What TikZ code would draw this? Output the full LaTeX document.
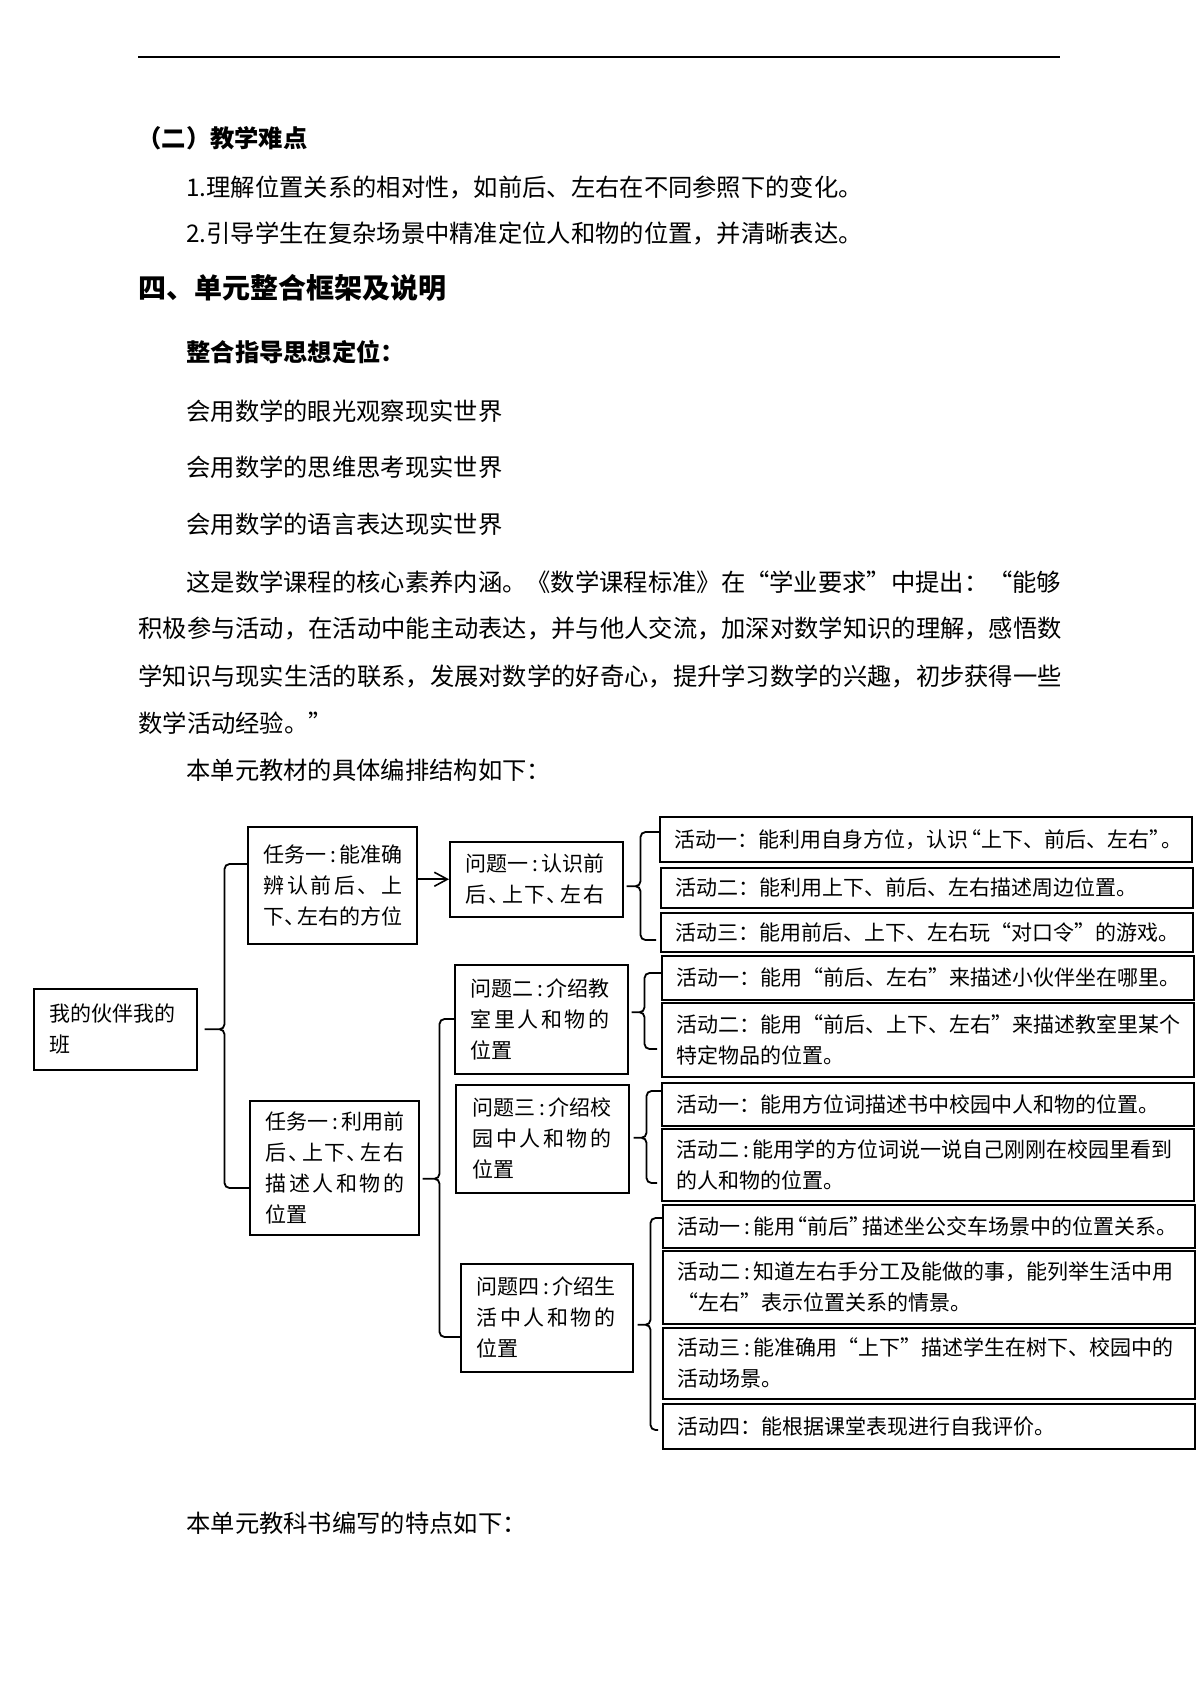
\documentclass[tikz,border=0pt]{standalone}
\usepackage{fontspec}
\setmainfont{Noto Sans CJK SC}
\usetikzlibrary{arrows.meta,calc}

\newcommand\hc{\makebox[0.6em][c]{:}}
\newcommand\pd{\makebox[0.6em][l]{、}}
\newcommand\oq[1][1em]{\makebox[#1][r]{“}}
\newcommand\cq[1][1em]{\makebox[#1][l]{”}}
\newcommand\spr[2][6.6em]{\makebox[#1][s]{\sprfirst#2\relax}}
\def\sprfirst#1{#1\sprrest}
\def\sprrest#1{\ifx#1\relax\else\hfill#1\expandafter\sprrest\fi}

\tikzset{
  body/.style={anchor=west,inner sep=0pt,font=\fontsize{12.15pt}{14pt}\selectfont},
  bodyb/.style={body,font=\fontsize{12.15pt}{14pt}\selectfont\bfseries},
  head/.style={body,font=\fontsize{14pt}{16pt}\selectfont\bfseries},
  box/.style={draw,line width=0.75pt,anchor=north west,inner xsep=8pt,inner ysep=0pt,
    align=left,font=\fontsize{10.5pt}{15.5pt}\selectfont},
  actbox/.style={box,inner xsep=7.5pt,text width=251pt,minimum width=266pt},
  brace/.style={line width=0.9pt,rounded corners=2.5pt},
  arr/.style={line width=0.8pt,-{Straight Barb[length=6.5pt,width=7pt]}}
}

\begin{document}
\begin{tikzpicture}[x=0.5pt,y=-0.5pt]
\fill[white](0,0)rectangle(1200,1696);
\useasboundingbox(0,0)rectangle(1200,1696);
% page text
\draw[line width=0.85pt](138,57)--(1060,57);
\node[bodyb](h2)at(137,138){（二）教学难点};
\node[body](p1)at(186,187){1.理解位置关系的相对性，如前后、左右在不同参照下的变化。};
\node[body](p2)at(186,233){2.引导学生在复杂场景中精准定位人和物的位置，并清晰表达。};
\node[head](h4)at(138,288){四、单元整合框架及说明};
\node[bodyb](h5)at(186,352){整合指导思想定位：};
\node[body](s1)at(186,411){会用数学的眼光观察现实世界};
\node[body](s2)at(186,467){会用数学的思维思考现实世界};
\node[body](s3)at(186,524){会用数学的语言表达现实世界};
\node[body](c1)at(186,582){这是数学课程的核心素养内涵。《数学课程标准》在\oq 学业要求\cq 中提出：\oq 能够};
\node[body](c2)at(138,628){积极参与活动，在活动中能主动表达，并与他人交流，加深对数学知识的理解，感悟数};
\node[body](c3)at(138,676){学知识与现实生活的联系，发展对数学的好奇心，提升学习数学的兴趣，初步获得一些};
\node[body](c4)at(138,723){数学活动经验。\cq};
\node[body](n1)at(186,770){本单元教材的具体编排结构如下：};
\node[body](n2)at(186,1523){本单元教科书编写的特点如下：};
% structure chart
\node[box,text width=65.5pt,minimum height=40.5pt](root)at(33,988){我的伙伴我的\\班};
\node[box,text width=68.5pt,minimum height=58.5pt](task1)at(247,826){任务一\hc 能准确\\\spr{辨认前后、上}\\\spr{下\pd 左右的方位}};
\node[box,text width=68.5pt,minimum height=67pt](task2)at(249,1100){任务一\hc 利用前\\\spr{后\pd 上下\pd 左右}\\\spr{描述人和物的}\\位置};
\node[box,text width=70.5pt,minimum height=37.5pt](ques1)at(449,841){问题一\hc 认识前\\\spr{后\pd 上下\pd 左右}};
\node[box,text width=70.5pt,minimum height=54.5pt](ques2)at(454,964){问题二\hc 介绍教\\\spr{室里人和物的}\\位置};
\node[box,text width=69.5pt,minimum height=54pt,inner xsep=8.5pt](ques3)at(455,1084){问题三\hc 介绍校\\\spr{园中人和物的}\\位置};
\node[box,text width=70pt,minimum height=54pt](ques4)at(460,1263){问题四\hc 介绍生\\\spr{活中人和物的}\\位置};
\node[actbox,minimum height=22.5pt](act11)at(659,816){活动一：能利用自身方位，认识\oq[0.6em]上下、前后、左右\cq[0.6em]。};
\node[actbox,minimum height=20pt](act12)at(660,867){活动二：能利用上下、前后、左右描述周边位置。};
\node[actbox,minimum height=19.5pt](act13)at(660,912){活动三：能用前后、上下、左右玩\oq 对口令\cq 的游戏。};
\node[actbox,minimum height=22pt](act21)at(661,955){活动一：能用\oq 前后、左右\cq 来描述小伙伴坐在哪里。};
\node[actbox,minimum height=37pt](act22)at(661,1002){活动二：能用\oq 前后、上下、左右\cq 来描述教室里某个\\特定物品的位置。};
\node[actbox,minimum height=21.5pt](act31)at(661,1082){活动一：能用方位词描述书中校园中人和物的位置。};
\node[actbox,minimum height=36pt](act32)at(661,1128){活动二\hc 能用学的方位词说一说自己刚刚在校园里看到\\的人和物的位置。};
\node[actbox,minimum height=21.5pt](act41)at(662,1204){活动一\hc 能用\oq[0.6em]前后\cq[0.6em]描述坐公交车场景中的位置关系。};
\node[actbox,minimum height=36.5pt](act42)at(662,1250){活动二\hc 知道左右手分工及能做的事，能列举生活中用\\\oq 左右\cq 表示位置关系的情景。};
\node[actbox,minimum height=35.5pt](act43)at(662,1327){活动三\hc 能准确用\oq 上下\cq 描述学生在树下、校园中的\\活动场景。};
\node[actbox,minimum height=22.5pt](act44)at(662,1403){活动四：能根据课堂表现进行自我评价。};
% braces and arrow
\draw[brace](task1.west |- 0,864) -| ($(root.east)+(27,0)$) -- ($(root.east)+(7,0)$)
  ($(root.east)+(7,0)$) -- ($(root.east)+(27,0)$) |- (task2.west |- 0,1188);
\draw[brace](ques2.west |- 0,1019) -| ($(task2.east)+(20,11)$) -- ($(task2.east)+(3,11)$)
  ($(task2.east)+(3,11)$) -- ($(task2.east)+(20,11)$) |- (ques4.west |- 0,1337);
\draw[arr](task1.east |- ques1.west) -- (ques1.west);
\begin{scope}[shorten <=2pt,shorten >=2pt]
\draw[brace](act11.west |- 0,832) -| ($(ques1.east)+(17,7)$) -- ($(ques1.east)+(3,7)$)
  ($(ques1.east)+(3,7)$) -- ($(ques1.east)+(17,7)$) |- (act13.west |- 0,940);
\draw[brace](act21.west |- 0,973) -| ($(ques2.east)+(16,-7)$) -- ($(ques2.east)+(3,-7)$)
  ($(ques2.east)+(3,-7)$) -- ($(ques2.east)+(16,-7)$) |- (act22.west |- 0,1049);
\draw[brace](act31.west |- 0,1091) -| ($(ques3.east)+(17,-1)$) -- ($(ques3.east)+(4,-1)$)
  ($(ques3.east)+(4,-1)$) -- ($(ques3.east)+(17,-1)$) |- (act32.west |- 0,1183);
\draw[brace](act41.west |- 0,1218) -| ($(ques4.east)+(17,7)$) -- ($(ques4.east)+(4,7)$)
  ($(ques4.east)+(4,7)$) -- ($(ques4.east)+(17,7)$) |- (act44.west |- 0,1430);
\end{scope}
\end{tikzpicture}
\end{document}
